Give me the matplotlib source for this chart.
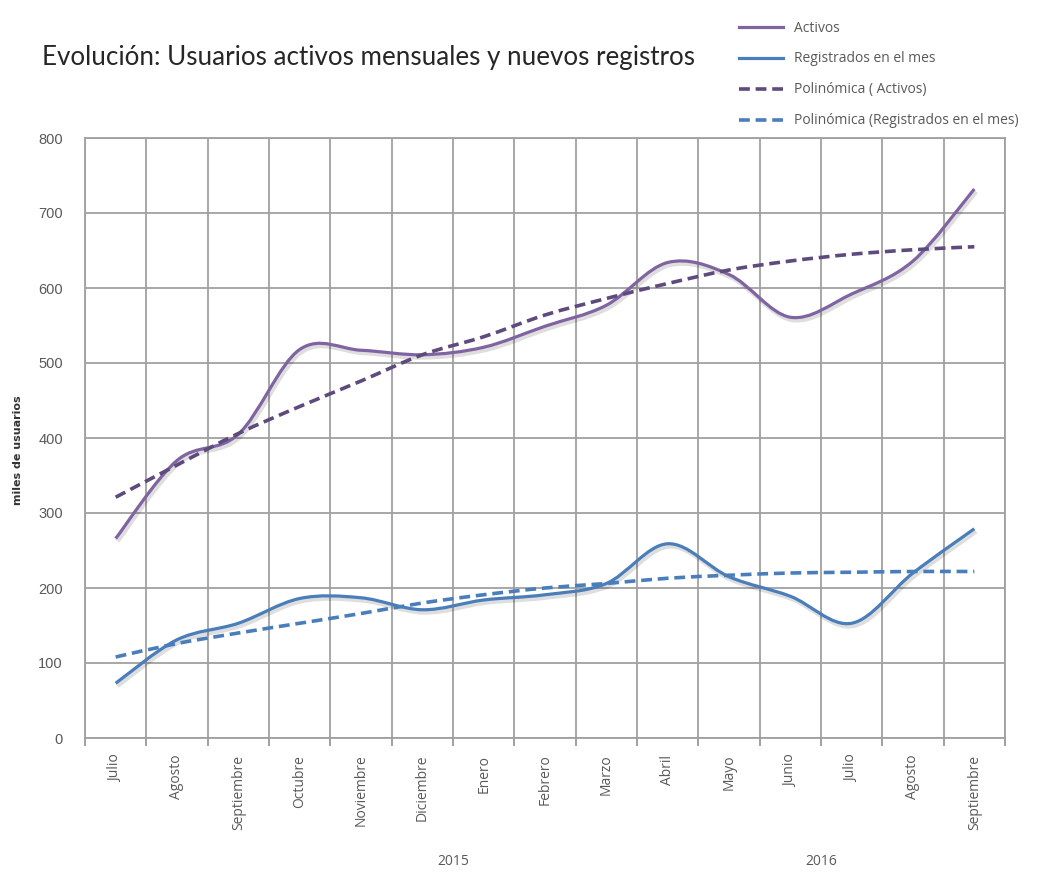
import numpy as np
import matplotlib
matplotlib.use("Agg")
import matplotlib.pyplot as plt
from matplotlib.path import Path
from matplotlib.patches import PathPatch
from matplotlib.lines import Line2D
import matplotlib.patheffects as pe

# data (miles de usuarios)
meses = ["Julio", "Agosto", "Septiembre", "Octubre", "Noviembre", "Diciembre",
         "Enero", "Febrero", "Marzo", "Abril", "Mayo", "Junio", "Julio",
         "Agosto", "Septiembre"]
activos = [266, 370, 405, 518, 517, 511, 521, 549, 577, 634, 618, 561, 592, 636, 732]
registrados = [73, 131, 153, 186, 187, 171, 184, 191, 206, 259, 215, 189, 153, 220, 279]
poli_activos = [321, 364, 406, 442, 476, 511, 535, 564, 586, 606, 624, 636, 645, 651, 655]
poli_registrados = [108, 126, 140, 153, 166, 180, 191, 200, 206, 213, 217, 220, 221, 222, 222]
anios = ["2015", "2016"]
anio_pos = [5.5, 11.5]

c_act = "#8064A2"
c_reg = "#4A7EBB"
c_pact = "#5E4A7C"
c_preg = "#4A7EBB"
gris = "#595959"


def smooth_path(xs, ys):
    # bezier segments through the points (Excel-like smoothed line)
    xs = np.asarray(xs, float)
    ys = np.asarray(ys, float)
    n = len(xs)
    verts = [(xs[0], ys[0])]
    codes = [Path.MOVETO]
    for i in range(n - 1):
        p0 = np.array([xs[max(i - 1, 0)], ys[max(i - 1, 0)]])
        p1 = np.array([xs[i], ys[i]])
        p2 = np.array([xs[i + 1], ys[i + 1]])
        p3 = np.array([xs[min(i + 2, n - 1)], ys[min(i + 2, n - 1)]])
        c1 = p1 + (p2 - p0) / 6.0
        c2 = p2 - (p3 - p1) / 6.0
        verts += [tuple(c1), tuple(c2), tuple(p2)]
        codes += [Path.CURVE4] * 3
    return Path(verts, codes)


fig = plt.figure(figsize=(10.49, 8.72), dpi=100)
ax = fig.add_axes([85 / 1049, 1 - 738 / 872, 920 / 1049, 600 / 872])

x = np.arange(len(meses))
shadow = [pe.SimpleLineShadow(offset=(1.2, -1.8), shadow_color="#000000", alpha=0.13,
                              linewidth=3.5),
          pe.Normal()]

series = [
    (activos, c_act, "-", "Activos"),
    (registrados, c_reg, "-", "Registrados en el mes"),
    (poli_activos, c_pact, (0, (3.0, 1.6)), "Polinómica ( Activos)"),
    (poli_registrados, c_preg, (0, (3.0, 1.6)), "Polinómica (Registrados en el mes)"),
]
handles = []
for vals, col, ls, lab in series:
    lw = 2.3 if ls == "-" else 2.6
    patch = PathPatch(smooth_path(x, vals), facecolor="none", edgecolor=col,
                      lw=lw, linestyle=ls, capstyle="butt", zorder=3)
    if ls == "-":
        patch.set_path_effects(shadow)
    ax.add_patch(patch)
    handles.append(Line2D([], [], color=col, lw=lw, linestyle=ls, label=lab))

ax.set_xlim(-0.5, len(meses) - 0.5)
ax.set_ylim(0, 800)
ax.set_yticks(np.arange(0, 801, 100))
ax.set_xticks(x)
ax.set_xticklabels(meses, rotation=90, va="top", ha="center",
                   fontsize=10, color=gris, family="Open Sans")
ax.set_xticks(np.arange(-0.5, len(meses), 1), minor=True)
ax.tick_params(axis="x", which="major", length=0, pad=12)
ax.tick_params(axis="x", which="minor", length=6, color="#909090", width=1.2)
ax.tick_params(axis="y", length=0, pad=16, labelsize=10.5, labelcolor=gris)
for lab in ax.get_yticklabels():
    lab.set_family("Liberation Sans")

ax.grid(True, which="minor", axis="x", color="#a0a0a0", lw=1.3)
ax.grid(True, which="major", axis="y", color="#a0a0a0", lw=1.3)
ax.set_axisbelow(True)
for s in ax.spines.values():
    s.set_color("#a0a0a0")
    s.set_linewidth(1.3)

for a, p in zip(anios, anio_pos):
    ax.text(p, -0.205, a, transform=ax.get_xaxis_transform(), ha="center",
            va="center", fontsize=10, color=gris, family="Open Sans")

fig.text(18 / 1049, 1 - 450 / 872, "miles de usuarios", rotation=90, ha="center",
         va="center", fontsize=8, fontweight="bold", color="#333333",
         family="Liberation Sans Narrow")

fig.text(42 / 1049, 1 - 57 / 872, "Evolución: Usuarios activos mensuales y nuevos registros",
         ha="left", va="center", fontsize=18.7, color="#262626", family="Lato")

fig.legend(handles=handles, loc="upper left", bbox_to_anchor=(726 / 1049, 1 - 8 / 872),
           frameon=False, handlelength=3.2, labelspacing=1.15,
           handletextpad=0.8, labelcolor=gris, prop={"family": "Open Sans", "size": 10})

fig.savefig("out.png", dpi=100, facecolor="white")
